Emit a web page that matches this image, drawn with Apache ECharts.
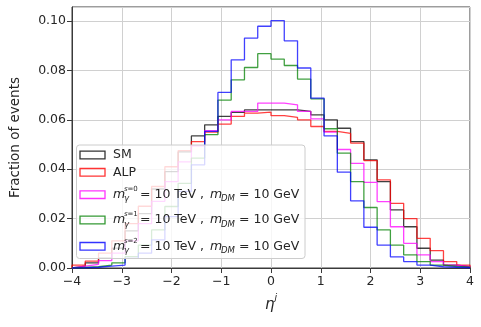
<!DOCTYPE html>
<html>
<head>
<meta charset="utf-8">
<script src="https://cdn.jsdelivr.net/npm/echarts@6/dist/echarts.min.js"></script>
<style>
html, body { margin: 0; padding: 0; background: #fff; }
#chart { width: 481px; height: 327px; }
</style>
</head>
<body>
<div id="chart"></div>
<script>
// bin edges in eta (30 bins from -4 to 4)
var binEdges = [-4, -3.7333, -3.4667, -3.2, -2.9333, -2.6667, -2.4, -2.1333, -1.8667, -1.6,
    -1.3333, -1.0667, -0.8, -0.5333, -0.2667, 0, 0.2667, 0.5333, 0.8, 1.0667,
    1.3333, 1.6, 1.8667, 2.1333, 2.4, 2.6667, 2.9333, 3.2, 3.4667, 3.7333, 4];

// fraction of events per bin
var sm  = [0.0008, 0.0021, 0.004, 0.008, 0.015, 0.022, 0.032, 0.039, 0.047, 0.0535,
           0.058, 0.0614, 0.063, 0.064, 0.064, 0.064, 0.064, 0.0634, 0.062, 0.060,
           0.0566, 0.0512, 0.0438, 0.035, 0.0235, 0.0167, 0.008, 0.0032, 0.0012, 0.0005];
var alp = [0.0012, 0.0028, 0.006, 0.011, 0.018, 0.025, 0.033, 0.041, 0.0475, 0.0512,
           0.055, 0.0583, 0.0614, 0.0627, 0.0631, 0.0617, 0.061, 0.060, 0.0573, 0.0553,
           0.0545, 0.0506, 0.0435, 0.0357, 0.0262, 0.020, 0.012, 0.007, 0.0026, 0.0012];
var s0  = [0.0008, 0.0015, 0.003, 0.006, 0.011, 0.018, 0.027, 0.035, 0.043, 0.0495,
           0.0556, 0.060, 0.0634, 0.0634, 0.0668, 0.0668, 0.0661, 0.0634, 0.0604, 0.055,
           0.048, 0.0424, 0.0347, 0.0269, 0.0167, 0.010, 0.0053, 0.0026, 0.0012, 0.0005];
var s1  = [0.0002, 0.0005, 0.0012, 0.0021, 0.0046, 0.0093, 0.0154, 0.0249, 0.0343, 0.0445,
           0.054, 0.068, 0.0762, 0.0812, 0.0868, 0.0846, 0.082, 0.0765, 0.0685, 0.0564,
           0.0465, 0.035, 0.0245, 0.0154, 0.0093, 0.0053, 0.0026, 0.0012, 0.0006, 0.0003];
var s2  = [0.0001, 0.0003, 0.0008, 0.0012, 0.0039, 0.006, 0.0114, 0.0208, 0.031, 0.0418,
           0.0553, 0.0711, 0.0843, 0.0931, 0.0979, 0.1002, 0.092, 0.081, 0.0688, 0.0535,
           0.0388, 0.0272, 0.0165, 0.0093, 0.0045, 0.0026, 0.0012, 0.0005, 0.0003, 0.0001];

var xTicks = [-4, -3, -2, -1, 0, 1, 2, 3, 4];
var seriesNames = ['SM', 'ALP', 's=0', 's=1', 's=2'];
var seriesColors = ['#000000', '#ff0000', '#ff00ff', '#008000', '#0000ff'];

var FONT = 'DejaVu Sans';

// step outline like matplotlib histtype='step'
function histPoints(vals) {
    var pts = [[binEdges[0], 0]];
    for (var i = 0; i < vals.length; i++) {
        pts.push([binEdges[i], vals[i]]);
    }
    pts.push([binEdges[vals.length], vals[vals.length - 1]]);
    pts.push([binEdges[vals.length], 0]);
    return pts;
}

var allData = [sm, alp, s0, s1, s2];
var series = allData.map(function (vals, i) {
    return {
        name: seriesNames[i],
        type: 'line',
        step: 'end',
        data: histPoints(vals),
        showSymbol: false,
        lineStyle: { color: seriesColors[i], width: 1.3, opacity: 0.75 },
        itemStyle: { color: seriesColors[i] },
        z: 2 + i
    };
});

// legend drawn by hand so the math labels can stack sub/superscripts
function txt(x, y, s, size, italic) {
    return {
        type: 'text', x: x, y: y, z: 101,
        style: {
            text: s, fontFamily: FONT, fontSize: size,
            fontStyle: italic ? 'italic' : 'normal',
            fill: '#262626', verticalAlign: 'middle', align: 'left'
        }
    };
}
function icon(y, color) {
    return {
        type: 'rect', z: 101,
        shape: { x: 80, y: y - 3.8, width: 25, height: 7.6 },
        style: { fill: 'none', stroke: color, lineWidth: 1.3, opacity: 0.8 }
    };
}
var rowY = [155, 172.3, 194.7, 220, 246.3];
var legendEls = [{
    type: 'rect', z: 100,
    shape: { x: 76.5, y: 145, width: 228.5, height: 113.5, r: 3 },
    style: { fill: 'rgba(255,255,255,0.8)', stroke: '#cccccc', lineWidth: 1 }
}];
rowY.forEach(function (y, i) {
    legendEls.push(icon(y, seriesColors[i]));
});
legendEls.push(txt(113, rowY[0], 'SM', 12.5));
legendEls.push(txt(113, rowY[1], 'ALP', 12.5));
for (var k = 2; k < 5; k++) {
    var y = rowY[k];
    legendEls.push(txt(113, y, 'm', 12.5, true));
    legendEls.push(txt(124, y + 4.5, 'γ', 8.5, true));
    legendEls.push(txt(124, y - 5.5, 's', 7, true));
    legendEls.push(txt(127.5, y - 5.5, '=' + (k - 2), 7));
    legendEls.push(txt(140, y, '= 10 TeV ,', 12.5));
    legendEls.push(txt(210, y, 'm', 12.5, true));
    legendEls.push(txt(221, y + 4.5, 'DM', 8.5, true));
    legendEls.push(txt(239, y, '= 10 GeV', 12.5));
}

var chart = echarts.init(document.getElementById('chart'));
var option = {
    animation: false,
    backgroundColor: '#ffffff',
    grid: {
        left: 69, right: 11, top: 7, bottom: 59,
        show: true, borderColor: '#3a3a3a', borderWidth: 1
    },
    xAxis: {
        type: 'value',
        min: xTicks[0], max: xTicks[xTicks.length - 1], interval: 1,
        name: '{a|η}{b|j}',
        nameLocation: 'middle',
        nameGap: 19,
        nameTextStyle: {
            rich: {
                a: { fontFamily: FONT, fontSize: 15, fontStyle: 'italic', color: '#262626', lineHeight: 20, verticalAlign: 'bottom' },
                b: { fontFamily: FONT, fontSize: 9.5, fontStyle: 'italic', color: '#262626', lineHeight: 20, verticalAlign: 'top' }
            }
        },
        axisLine: { show: true, onZero: false, lineStyle: { color: '#3a3a3a', width: 1 } },
        axisTick: { show: true, inside: false, length: 5, lineStyle: { color: '#3a3a3a' } },
        axisLabel: {
            fontFamily: FONT, fontSize: 12.5, color: '#262626', margin: 7,
            formatter: function (v) { return v < 0 ? '\u2212' + Math.abs(v) : String(v); }
        },
        splitLine: { show: true, lineStyle: { color: '#d0d0d0', width: 1 } }
    },
    yAxis: {
        type: 'value',
        min: 0, max: 0.1057, interval: 0.02,
        name: 'Fraction of events',
        nameLocation: 'middle',
        nameRotate: 90,
        nameGap: 50,
        nameTextStyle: { fontFamily: FONT, fontSize: 13.5, color: '#262626' },
        axisLine: { show: true, onZero: false, lineStyle: { color: '#3a3a3a', width: 1 } },
        axisTick: { show: true, inside: false, length: 5, lineStyle: { color: '#3a3a3a' } },
        axisLabel: {
            fontFamily: FONT, fontSize: 12.5, color: '#262626', margin: 6,
            showMaxLabel: false,
            formatter: function (v) { return v.toFixed(2); }
        },
        splitLine: { show: true, lineStyle: { color: '#d0d0d0', width: 1 } }
    },
    graphic: legendEls,
    series: series
};
chart.setOption(option);
</script>
</body>
</html>
